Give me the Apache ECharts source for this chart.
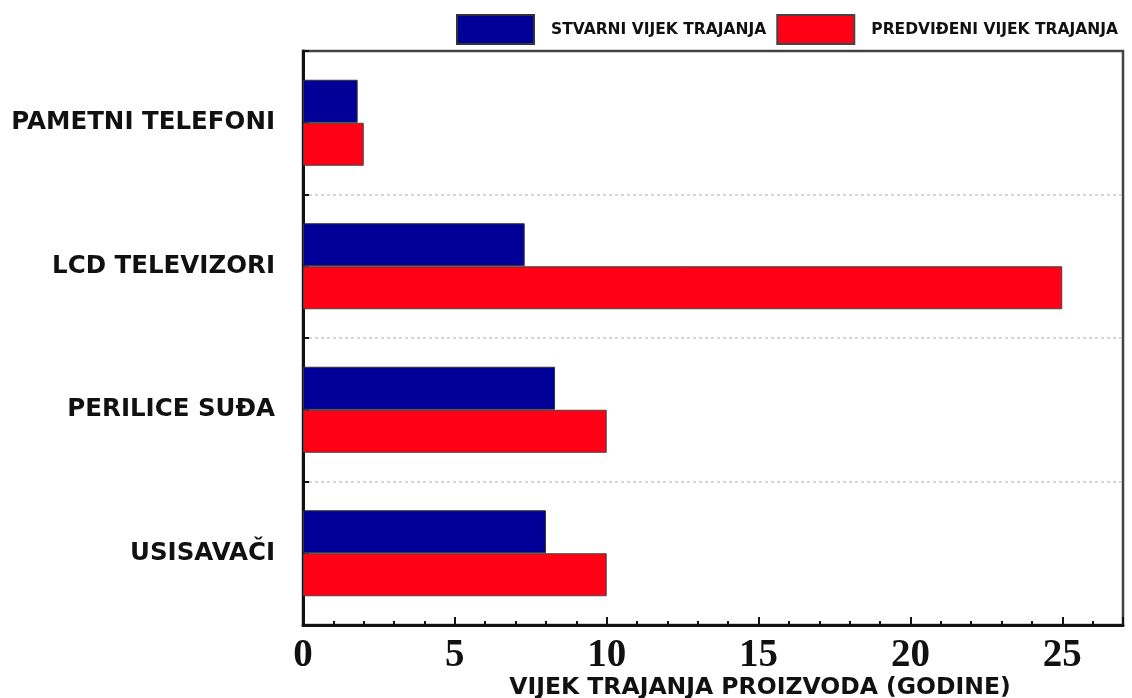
<!DOCTYPE html>
<html>
<head>
<meta charset="utf-8">
<script src="https://cdn.jsdelivr.net/npm/echarts@6/dist/echarts.min.js"></script>
<style>html,body{margin:0;padding:0;background:#fff}#c{width:1132px;height:698px}</style>
</head>
<body>
<div id="c"></div>
<script>
const categories = ['PAMETNI TELEFONI', 'LCD TELEVIZORI', 'PERILICE SUĐA', 'USISAVAČI'];
const seriesNames = ['STVARNI VIJEK TRAJANJA', 'PREDVIĐENI VIJEK TRAJANJA'];
const actualLife = [1.8, 7.3, 8.3, 8.0];
const expectedLife = [2.0, 25.0, 10.0, 10.0];
const xAxisTitle = 'VIJEK TRAJANJA PROIZVODA (GODINE)';

const chart = echarts.init(document.getElementById('c'), null, {renderer: 'canvas'});
const sans = 'DejaVu Sans';
chart.setOption({
  animation: false,
  backgroundColor: '#fff',
  legend: {
    left: 456, top: 14, width: 700, icon: 'rect', padding: 0, orient: 'horizontal',
    itemWidth: 77, itemHeight: 29, itemGap: 10,
    textStyle: {fontFamily: sans, fontWeight: 'bold', fontSize: 15.5, color: '#111', padding: [0, 0, 0, 12]},
    data: seriesNames
  },
  grid: {left: 303, right: 9, top: 51, bottom: 73, outerBoundsMode: 'none', containLabel: false,
    show: true, borderColor: '#444', borderWidth: 2.5},
  xAxis: {
    type: 'value', min: 0, max: 27, interval: 5,
    axisLine: {show: true, lineStyle: {color: '#111', width: 3}},
    axisTick: {show: true, inside: true, length: 8, lineStyle: {color: '#111', width: 2}},
    minorTick: {show: true, splitNumber: 5, length: 4, lineStyle: {color: '#111', width: 2}},
    splitLine: {show: false},
    axisLabel: {fontFamily: 'Liberation Serif', fontWeight: 'bold', fontSize: 39, color: '#111', margin: 11,
      showMaxLabel: false},
    name: xAxisTitle, nameLocation: 'middle', nameGap: 51, nameMoveOverlap: false,
    nameTextStyle: {fontFamily: sans, fontWeight: 'bold', fontSize: 23.5, color: '#111', padding: [0, 0, 0, 94]}
  },
  yAxis: [{
    type: 'category', inverse: true, data: categories,
    axisLine: {show: true, lineStyle: {color: '#111', width: 3}},
    axisTick: {show: true, inside: true, length: 6, lineStyle: {color: '#111', width: 2}},
    splitLine: {show: true, interval: function (i) { return i > 0; },
      lineStyle: {color: '#c8c8c8', type: [3, 3], width: 1.5}},
    axisLabel: {fontFamily: sans, fontWeight: 'bold', fontSize: 24.5, color: '#111', margin: 28}
  }, {
    type: 'category', inverse: true, data: categories, position: 'left',
    axisLine: {show: false}, axisLabel: {show: false}, splitLine: {show: false},
    axisTick: {show: true, inside: true, alignWithLabel: true, length: 6, lineStyle: {color: '#111', width: 2}}
  }],
  series: [{
    name: seriesNames[0], type: 'bar', data: actualLife, yAxisIndex: 0,
    barWidth: 43, barGap: '0%',
    itemStyle: {color: '#000099', borderColor: '#333', borderWidth: 1}
  }, {
    name: seriesNames[1], type: 'bar', data: expectedLife, yAxisIndex: 0,
    barWidth: 43, barGap: '0%',
    itemStyle: {color: '#ff0014', borderColor: '#444', borderWidth: 1}
  }]
});
</script>
</body>
</html>
